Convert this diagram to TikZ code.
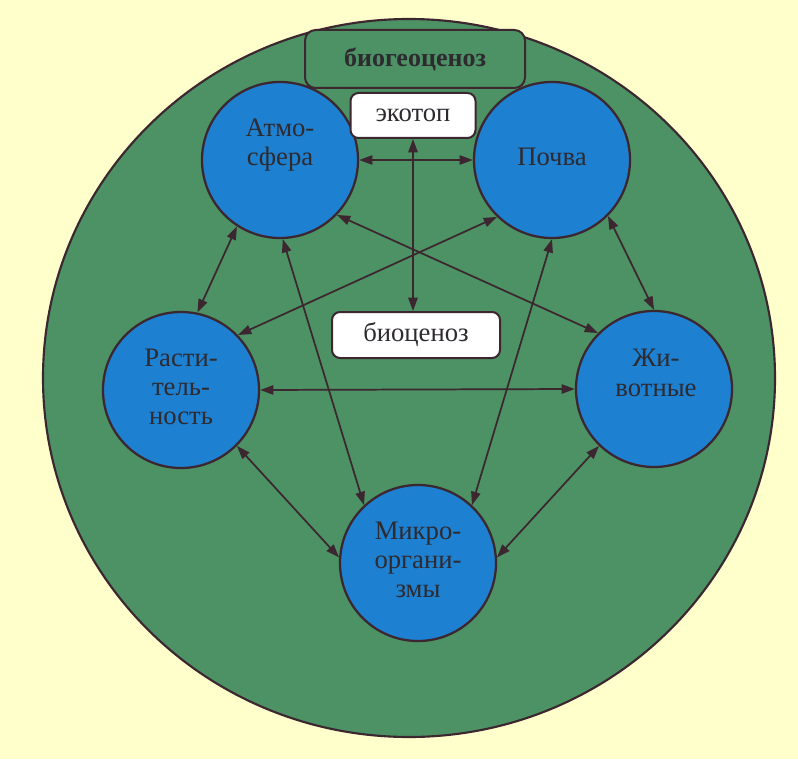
\documentclass[tikz,border=0pt]{standalone}
\usepackage{fontspec}
\setmainfont{Liberation Serif}
\usetikzlibrary{arrows.meta,calc,shapes.geometric}
\definecolor{bgyellow}{RGB}{255,255,204}
\definecolor{bigGreen}{RGB}{76,146,100}
\definecolor{ballBlue}{RGB}{30,128,208}
\definecolor{edgecol}{RGB}{60,38,48}
\definecolor{ink}{RGB}{45,42,48}
\begin{document}
\begin{tikzpicture}[x=0.75pt,y=-0.75pt,
  ball/.style={circle,draw=edgecol,line width=1.7pt,fill=ballBlue,minimum size=117pt,inner sep=0pt},
  lbl/.style={text=ink,font=\fontsize{20}{22}\selectfont,align=center,inner sep=0pt},
  wbox/.style={rectangle,rounded corners=6pt,draw=edgecol,line width=1.5pt,fill=white,text=ink,font=\fontsize{20}{22}\selectfont,inner sep=0pt},
  gbox/.style={rectangle,rounded corners=8pt,draw=edgecol,line width=1.5pt,fill=bigGreen,text=ink,font=\fontsize{19.5}{22}\selectfont\bfseries,inner sep=0pt},
  link/.style={draw=edgecol,line width=1.3pt,{Triangle[length=10pt,width=7pt]}-{Triangle[length=10pt,width=7pt]}}
]
\fill[bgyellow] (0,0) rectangle (798,759);
\useasboundingbox (0,0) rectangle (798,759);
\node[ellipse,draw=edgecol,line width=1.6pt,fill=bigGreen,minimum width=549pt,minimum height=538.5pt,inner sep=0pt] (eco) at (409,378) {};
\node[gbox,minimum width=165pt,minimum height=43.5pt] (bgc) at (415,59) {биогеоценоз};

\node[ball] (atm) at (280,160) {};
\node[ball] (poc) at (552,160) {};
\node[ball] (ras) at (181,390) {};
\node[ball] (zhi) at (654,389) {};
\node[ball] (mik) at (418,563) {};

\node[lbl] (atmT) at ($(atm)+(0,-15)$) {Атмо-\\сфера};
\node[lbl] (pocT) at ($(poc)+(0,-3)$) {Почва};
\node[lbl] (rasT) at ($(ras)+(0,-3)$) {Расти-\\тель-\\ность};
\node[lbl] (zhiT) at ($(zhi)+(2,-16)$) {Жи-\\вотные};
\node[lbl] (mikT) at ($(mik)+(0,-3)$) {Микро-\\органи-\\змы};

\node[wbox,minimum width=93.75pt,minimum height=33.75pt] (eko) at (413,115.5) {экотоп};
\node[wbox,minimum width=126pt,minimum height=34.5pt] (bio) at (416,335) {биоценоз};

\draw[link] (atm.0) -- (poc.180);
\draw[link] (atm.-123.5) -- (ras.78.4);
\draw[link] (atm.-44) -- (zhi.135.5);
\draw[link] (atm.-88.5) -- (mik.133);
\draw[link] (poc.-134.5) -- (ras.44);
\draw[link] (poc.-90) -- (mik.47);
\draw[link] (poc.-45) -- (zhi.90);
\draw[link] (ras.0) -- (zhi.180);
\draw[link] (ras.-45.5) -- (mik.176.4);
\draw[link] (zhi.-134.5) -- (mik.4);
\draw[link] (eko.south) -- (eko.south |- bio.north);
\end{tikzpicture}
\end{document}
